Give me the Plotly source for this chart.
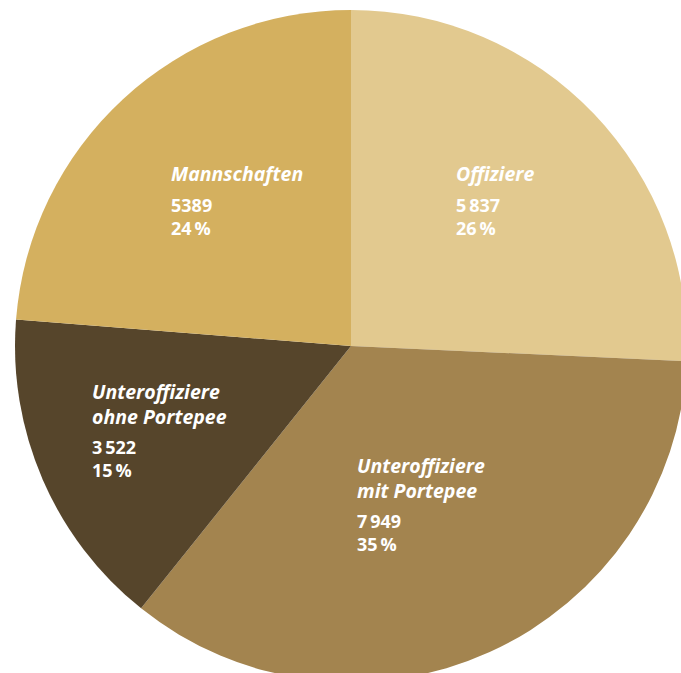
import plotly.graph_objects as go

# Data
categories = ["Offiziere", "Unteroffiziere mit Portepee", "Unteroffiziere ohne Portepee", "Mannschaften"]
values = [5837, 7949, 3522, 5389]
value_labels = ["5\u2009837", "7\u2009949", "3\u2009522", "5389"]
pct_labels = ["26\u2009%", "35\u2009%", "15\u2009%", "24\u2009%"]
name_labels = ["Offiziere", "Unteroffiziere<br>mit Portepee", "Unteroffiziere<br>ohne Portepee", "Mannschaften"]
colors = ["#E2C98F", "#A3844F", "#56452B", "#D4B05F"]

W, H = 720, 720
cx, cy, r = 351, 346, 336

fig = go.Figure(go.Pie(
    labels=categories,
    values=values,
    sort=False,
    direction="clockwise",
    rotation=0,
    marker=dict(colors=colors, line=dict(width=0)),
    textinfo="none",
    hoverinfo="label+value+percent",
    showlegend=False,
    domain=dict(x=[(cx - r) / W, (cx + r) / W], y=[1 - (cy + r) / H, 1 - (cy - r) / H]),
))

# label anchor positions in pixels (left edge of text block, name block center, numbers block center)
label_pos = [(454, 173, 216), (355, 478, 532), (90, 404, 458), (169, 173, 216)]

font_family = "Open Sans"
for name, val, pct, (lx, ny, vy) in zip(name_labels, value_labels, pct_labels, label_pos):
    fig.add_annotation(
        x=lx / W, y=1 - ny / H, xref="paper", yref="paper",
        xanchor="left", yanchor="middle", align="left", showarrow=False,
        text="<b><i>" + name + "</i></b>",
        font=dict(family=font_family, size=19.5, color="white"),
    )
    fig.add_annotation(
        x=lx / W, y=1 - vy / H, xref="paper", yref="paper",
        xanchor="left", yanchor="middle", align="left", showarrow=False,
        text="<b>" + val + "<br>" + pct + "</b>",
        font=dict(family=font_family, size=18, color="white"),
    )

fig.update_layout(
    width=W, height=H,
    margin=dict(l=0, r=0, t=0, b=0),
    paper_bgcolor="white",
    plot_bgcolor="white",
)

fig.write_html(
    "out.html",
    config={"displayModeBar": False},
    post_script="document.body.style.margin='0';document.body.style.overflow='hidden';document.documentElement.style.overflow='hidden';",
)
